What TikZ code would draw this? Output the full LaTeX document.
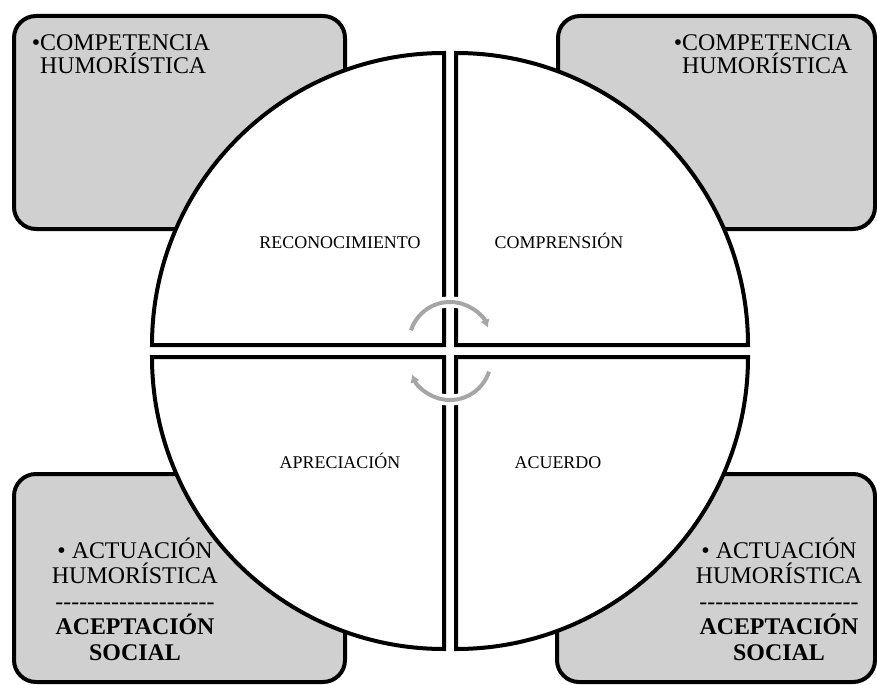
\documentclass[tikz,border=0pt]{standalone}
\usepackage{fontspec}
\setmainfont{Liberation Serif}[Ligatures=TeXOff]
\usetikzlibrary{arrows.meta}
\definecolor{boxfill}{HTML}{D0D0D0}
\definecolor{arrowc}{HTML}{A6A6A6}
\begin{document}
\begin{tikzpicture}[x=1bp, y=-1bp, >=Latex]
\tikzset{
  corner/.style={draw=black, fill=boxfill, rounded corners=22bp, line width=4bp},
  quarter/.style={draw=black, fill=white, line width=4bp},
  stagetxt/.style={font=\fontsize{18}{20}\selectfont, inner sep=0pt, anchor=base},
  boxtxt/.style={font=\fontsize{24}{23.5}\selectfont, inner sep=0pt, align=left, anchor=base west},
  boxtxtc/.style={font=\fontsize{24}{25.5}\selectfont, inner sep=0pt, align=center, anchor=base},
  cyclearrow/.style={draw=arrowc, line width=4bp, -{Latex[length=8bp,width=10bp]},
    preaction={draw=white, line width=11bp, -}}
}
\fill[white] (0,0) rectangle (877,685);
\useasboundingbox (0,0) rectangle (877,685);
% corner boxes
\draw[corner] (14,16) rectangle (345,229);
\draw[corner] (558,16) rectangle (875,229);
\draw[corner] (14,474) rectangle (345,682);
\draw[corner] (557,474) rectangle (875,682);
% four quarters of the circle
\foreach \cx/\cy/\a in {444/345/180, 456/345/270, 456/357/0, 444/357/90}{
  \draw[quarter] (\cx,\cy) -- ++(\a:292) arc[start angle=\a, end angle=\a+90, radius=292] -- cycle;
}
% cycle arrows
\draw[cyclearrow] (450,343) ++(198:41) arc[start angle=198, end angle=338, radius=41];
\draw[cyclearrow] (450,359) ++(18:41) arc[start angle=18, end angle=158, radius=41];
% stage labels
\node[stagetxt] (recon) at (340,248) {RECONOCIMIENTO};
\node[stagetxt] (compr) at (559,248) {COMPRENSIÓN};
\node[stagetxt] (aprec) at (340,468) {APRECIACIÓN};
\node[stagetxt] (acuer) at (558,468) {ACUERDO};
% box texts (base = last line)
\node[boxtxt] (compL) at (40,74) {\llap{•}COMPETENCIA\\HUMORÍSTICA};
\node[boxtxt] (compR) at (682,74) {\llap{•}COMPETENCIA\\HUMORÍSTICA};
\node[boxtxtc] (actL) at (135,660) {• ACTUACIÓN\\HUMORÍSTICA\\--------------------\\\textbf{ACEPTACIÓN}\\\textbf{SOCIAL}};
\node[boxtxtc] (actR) at (779,660) {• ACTUACIÓN\\HUMORÍSTICA\\--------------------\\\textbf{ACEPTACIÓN}\\\textbf{SOCIAL}};
\end{tikzpicture}
\end{document}
